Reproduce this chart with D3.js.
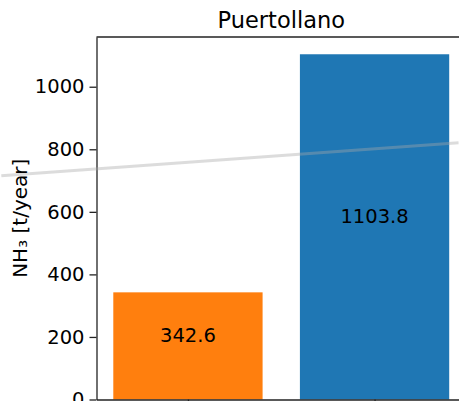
<!DOCTYPE html>
<html>
<head>
<meta charset="utf-8">
<script src="https://cdn.jsdelivr.net/npm/d3@7"></script>
<style>
  html, body { margin: 0; padding: 0; background: #fff; overflow: hidden; }
  text { font-family: 'DejaVu Sans', sans-serif; fill: #000; }
  .axis path, .axis line { stroke: #222; stroke-width: 1.3; }
</style>
</head>
<body>
<div id="chart"></div>
<script>
const title = 'Puertollano';
const yLabel = 'NH\u2083 [t/year]';
const categories = ['Case 1', 'Case 2'];
const values = [342.6, 1103.8];
const barColors = ['#ff7f0e', '#1f77b4'];
const yTicks = [0, 200, 400, 600, 800, 1000];

// faint grey line that crosses the picture, given in axis units (x = category index)
const overlayX = [-1.0, 1.45];
const overlayY = [715, 821];

const margin = {top: 37, right: -7, bottom: 1.5, left: 96.5},
      width = 459 - margin.left - margin.right,
      height = 401 - margin.top - margin.bottom;

const svg = d3.select('#chart').append('svg')
    .attr('width', 459)
    .attr('height', 401);

const wrapper = svg.append('g')
    .attr('transform', 'translate(' + margin.left + ',' + margin.top + ')');

// matplotlib style: bars 0.8 wide, 5% margins on the x-range
const xScale = d3.scaleLinear().domain([-0.49, 1.49]).range([0, width]),
      yScale = d3.scaleLinear().domain([0, d3.max(values) * 1.05]).range([height, 0]);

const barWidth = 0.8;

wrapper.selectAll('rect.bar')
    .data(values)
  .enter().append('rect')
    .attr('class', 'bar')
    .attr('x', function(d, i) { return xScale(i - barWidth / 2); })
    .attr('width', function(d, i) { return xScale(i + barWidth / 2) - xScale(i - barWidth / 2); })
    .attr('y', function(d) { return yScale(d); })
    .attr('height', function(d) { return height - yScale(d); })
    .attr('fill', function(d, i) { return barColors[i]; });

// value labels sit with their bottom at half the bar height
wrapper.selectAll('text.value')
    .data(values)
  .enter().append('text')
    .attr('class', 'value')
    .attr('x', function(d, i) { return xScale(i); })
    .attr('y', function(d) { return yScale(d / 2); })
    .attr('dy', '-0.22em')
    .style('font-size', '19.5px')
    .style('text-anchor', 'middle')
    .text(function(d) { return d3.format('.1f')(d); });

// axes
wrapper.append('g')
    .attr('class', 'axis')
    .call(d3.axisLeft(yScale).tickValues(yTicks).tickFormat(d3.format('d'))
      .tickSize(7).tickPadding(5).tickSizeOuter(0))
    .call(function(g) {
      g.selectAll('text').style('font-size', '19.5px').attr('fill', '#000');
    });

// x tick labels (categories) fall below the cropped picture, so only the marks show
wrapper.append('g')
    .attr('class', 'axis')
    .attr('transform', 'translate(0,' + height + ')')
    .call(d3.axisBottom(xScale).tickValues(d3.range(categories.length))
      .tickFormat('').tickSize(7).tickSizeOuter(0));

// top and right spines
wrapper.append('line')
    .attr('x1', 0).attr('x2', width)
    .attr('y1', 0).attr('y2', 0)
    .attr('stroke', '#222').attr('stroke-width', 1.3);
wrapper.append('line')
    .attr('x1', width).attr('x2', width)
    .attr('y1', 0).attr('y2', height)
    .attr('stroke', '#222').attr('stroke-width', 1.3);

// title
wrapper.append('text')
    .attr('x', width / 2)
    .attr('y', -9)
    .style('font-size', '22.5px')
    .style('text-anchor', 'middle')
    .text(title);

// y label
svg.append('text')
    .attr('transform', 'translate(27,' + (margin.top + height / 2) + ') rotate(-90)')
    .style('font-size', '20px')
    .style('text-anchor', 'middle')
    .text(yLabel);

// overlay line
const line = d3.line()
    .x(function(d) { return xScale(d[0]); })
    .y(function(d) { return yScale(d[1]); });

wrapper.append('path')
    .datum(d3.zip(overlayX, overlayY))
    .attr('fill', 'none')
    .attr('stroke', '#a8a8a8')
    .attr('stroke-opacity', 0.4)
    .attr('stroke-width', 3)
    .attr('d', line);
</script>
</body>
</html>
